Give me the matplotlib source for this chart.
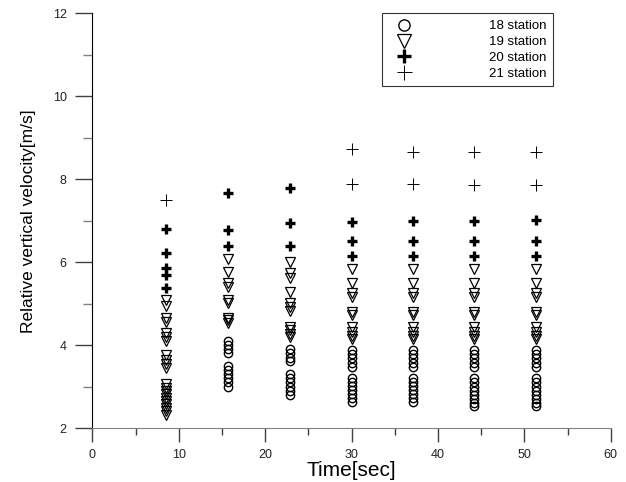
import matplotlib
matplotlib.use('Agg')
import matplotlib.pyplot as plt

plt.rcParams['font.family'] = ['Liberation Sans', 'DejaVu Sans']

# measurement times [sec]
times = [8.5, 15.7, 22.9, 30.0, 37.1, 44.2, 51.3]

# 18 station (circles), one list per time
st18 = [
    [],
    [4.1, 4.0, 3.9, 3.82, 3.5, 3.4, 3.3, 3.2, 3.1, 3.0],
    [3.9, 3.8, 3.7, 3.62, 3.3, 3.2, 3.1, 3.0, 2.9, 2.8],
    [3.88, 3.78, 3.68, 3.57, 3.47, 3.21, 3.11, 3.02, 2.92, 2.82, 2.72, 2.63],
    [3.88, 3.78, 3.68, 3.57, 3.47, 3.21, 3.11, 3.02, 2.92, 2.82, 2.72, 2.63],
    [3.88, 3.78, 3.68, 3.57, 3.47, 3.2, 3.1, 3.0, 2.9, 2.8, 2.7, 2.6, 2.52],
    [3.88, 3.78, 3.68, 3.57, 3.47, 3.2, 3.1, 3.0, 2.9, 2.8, 2.7, 2.6, 2.52],
]

# 19 station (open triangles)
st19 = [
    [5.08, 4.95, 4.65, 4.55, 4.3, 4.2, 4.1, 3.75, 3.65, 3.55, 3.45,
     3.05, 2.97, 2.89, 2.81, 2.73, 2.65, 2.57, 2.49, 2.41, 2.32],
    [6.07, 5.77, 5.49, 5.41, 5.09, 5.01, 4.66, 4.6, 4.54],
    [6.01, 5.73, 5.61, 5.27, 5.01, 4.91, 4.83, 4.44, 4.36, 4.27, 4.19],
    [5.83, 5.51, 5.25, 5.17, 4.81, 4.73, 4.43, 4.32, 4.22, 4.14],
    [5.83, 5.51, 5.25, 5.17, 4.81, 4.73, 4.43, 4.32, 4.22, 4.14],
    [5.83, 5.51, 5.25, 5.17, 4.81, 4.73, 4.43, 4.32, 4.22, 4.14],
    [5.83, 5.51, 5.25, 5.17, 4.81, 4.73, 4.43, 4.32, 4.22, 4.14],
]

# 20 station (bold plus)
st20 = [
    [6.8, 6.22, 5.86, 5.7, 5.37],
    [7.68, 6.78, 6.4],
    [7.78, 6.94, 6.38],
    [6.96, 6.5, 6.15],
    [7.0, 6.52, 6.15],
    [7.0, 6.52, 6.15],
    [7.02, 6.52, 6.15],
]

# 21 station (thin plus)
st21 = [
    [7.5],
    [],
    [],
    [8.72, 7.88],
    [8.67, 7.88],
    [8.65, 7.87],
    [8.65, 7.87],
]


def flat(series):
    xs, ys = [], []
    for t, vals in zip(times, series):
        xs += [t] * len(vals)
        ys += vals
    return xs, ys


fig = plt.figure(figsize=(6.26, 4.82), dpi=100)
ax = fig.add_axes([0.1476, 0.112, 0.8281, 0.860])

x, y = flat(st18)
ax.plot(x, y, 'o', ms=6, mfc='none', mec='black', mew=1.0, label='18 station')
x, y = flat(st19)
ax.plot(x, y, 'v', ms=7, mfc='none', mec='black', mew=0.9, label='19 station')
x, y = flat(st20)
ax.plot(x, y, '+', ms=7, mec='black', mew=2.4, label='20 station')
x, y = flat(st21)
ax.plot(x, y, '+', ms=8, mec='black', mew=0.7, label='21 station')

ax.set_xlim(0, 60)
ax.set_ylim(2, 12)
ax.set_xticks(range(0, 61, 10))
ax.set_xticks(range(5, 60, 10), minor=True)
ax.set_yticks(range(2, 13, 2))
ax.set_yticks(range(3, 12, 2), minor=True)

for s in ['top', 'right']:
    ax.spines[s].set_visible(False)
ax.spines['left'].set_color('black')
ax.spines['bottom'].set_color('#808080')
ax.tick_params(axis='x', which='major', length=10, width=1.0, color='#404040',
               labelsize=9, labelcolor='#222222', pad=5)
ax.tick_params(axis='x', which='minor', length=5, width=1.0, color='#404040')
ax.tick_params(axis='y', which='major', length=12.5, width=1.0, color='#404040',
               labelsize=9, labelcolor='#222222', pad=6)
ax.tick_params(axis='y', which='minor', length=6.5, width=1.0, color='#808080')

ax.set_xlabel('Time[sec]', fontsize=15, labelpad=0)
ax.set_ylabel('Relative vertical velocity[m/s]', fontsize=12.5, labelpad=12)

leg = ax.legend(loc='upper right', bbox_to_anchor=(0.883, 0.972),
                bbox_transform=fig.transFigure, fontsize=9.5, frameon=True,
                fancybox=False, edgecolor='black', borderpad=0.5,
                handletextpad=5.3, labelspacing=0.27, handlelength=2.3,
                markerscale=1.35, borderaxespad=0)
leg.get_frame().set_linewidth(0.8)

fig.savefig('out.png', dpi=100)
